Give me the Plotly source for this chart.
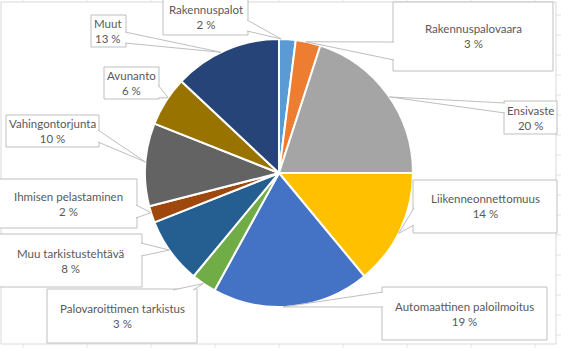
import math
import plotly.graph_objects as go

# Hälytystehtävät tehtävätyypeittäin (osuus, %)
categories = [
    "Rakennuspalot",
    "Rakennuspalovaara",
    "Ensivaste",
    "Liikenneonnettomuus",
    "Automaattinen paloilmoitus",
    "Palovaroittimen tarkistus",
    "Muu tarkistustehtävä",
    "Ihmisen pelastaminen",
    "Vahingontorjunta",
    "Avunanto",
    "Muut",
]
values = [2, 3, 20, 14, 19, 3, 8, 2, 10, 6, 13]
colors = [
    "#5B9BD5", "#ED7D31", "#A5A5A5", "#FFC000", "#4472C4", "#70AD47",
    "#255E91", "#9E480E", "#636363", "#997300", "#264478",
]

W, H = 561, 348
CX, CY, R = 279, 173, 134  # pie centre and radius in pixels

# Callout geometry in pixels: box (x0, y0, x1, y1), wedge base points, tip angle (deg clockwise from 12 o'clock)
callouts = {
    "Rakennuspalot": dict(box=(163, -2, 248, 35), base=[(247, 20), (247, 31)], tip=1.0),
    "Rakennuspalovaara": dict(box=(393, 2, 553, 71), base=[(394, 42), (394, 60)], tip=11.6),
    "Ensivaste": dict(box=(504, 101, 557, 134), base=[(505, 103), (505, 113)], tip=55.4),
    "Liikenneonnettomuus": dict(box=(413, 180, 557, 233), base=[(414, 208), (414, 225)], tip=116.8),
    "Automaattinen paloilmoitus": dict(box=(382, 287, 547, 340), base=[(383, 292), (383, 307)], tip=178.3),
    "Palovaroittimen tarkistus": dict(box=(47, 289, 197, 343), base=[(173, 290), (193, 290)], tip=214.4),
    "Muu tarkistustehtävä": dict(box=(-1, 234, 142, 287), base=[(141, 243), (141, 256)], tip=234.9),
    "Ihmisen pelastaminen": dict(box=(-1, 179, 137, 228), base=[(136, 205), (136, 218)], tip=252.8),
    "Vahingontorjunta": dict(box=(6, 115, 99, 147), base=[(98, 130), (98, 142)], tip=274.7),
    "Avunanto": dict(box=(104, 67, 159, 99), base=[(158, 85), (158, 98)], tip=304.2),
    "Muut": dict(box=(91, 15, 126, 47), base=[(125, 32), (125, 43)], tip=334.3),
}

GRID = "#E3E3E3"
FRAME = "#D9D9D9"
BOX = "#BFBFBF"
TEXT = "#595959"


def px(x):
    return x / W


def py(y):
    return 1 - y / H


fig = go.Figure(
    go.Pie(
        labels=categories,
        values=values,
        sort=False,
        direction="clockwise",
        rotation=0,
        marker=dict(colors=colors, line=dict(color="white", width=2)),
        textinfo="none",
        hoverinfo="label+percent",
        showlegend=False,
        domain=dict(x=[px(CX - R), px(CX + R)], y=[py(CY + R), py(CY - R)]),
    )
)

shapes = []

# worksheet gridlines peeking around the chart frame
for gx in range(23, W, 64):
    shapes.append(dict(type="line", xref="paper", yref="paper", x0=px(gx), x1=px(gx),
                       y0=py(0), y1=py(2), line=dict(color=GRID, width=1), layer="below"))
    shapes.append(dict(type="line", xref="paper", yref="paper", x0=px(gx), x1=px(gx),
                       y0=py(344), y1=py(348), line=dict(color=GRID, width=1), layer="below"))
for gy in range(15, H, 20):
    shapes.append(dict(type="line", xref="paper", yref="paper", x0=px(556), x1=px(561),
                       y0=py(gy), y1=py(gy), line=dict(color=GRID, width=1), layer="below"))

# chart frame
shapes.append(dict(type="rect", xref="paper", yref="paper", x0=px(1), x1=px(556),
                   y0=py(344), y1=py(2), line=dict(color=FRAME, width=1),
                   fillcolor="white", layer="below"))

annotations = []
for cat, val in zip(categories, values):
    c = callouts[cat]
    x0, y0, x1, y1 = c["box"]
    shapes.append(dict(type="rect", xref="paper", yref="paper", x0=px(x0), x1=px(x1),
                       y0=py(y1), y1=py(y0), line=dict(color=BOX, width=1),
                       fillcolor="white", layer="above"))
    ang = math.radians(c["tip"])
    tx = CX + R * math.sin(ang)
    ty = CY - R * math.cos(ang)
    (ax, ay), (bx, by) = c["base"]
    path = f"M {px(ax)} {py(ay)} L {px(tx)} {py(ty)} L {px(bx)} {py(by)}"
    shapes.append(dict(type="path", xref="paper", yref="paper", path=path,
                       line=dict(color=BOX, width=1), fillcolor="white", layer="above"))
    annotations.append(dict(
        xref="paper", yref="paper", x=px((x0 + x1) / 2), y=py((y0 + y1) / 2),
        text=f"{cat}<br>{val} %", showarrow=False, xanchor="center", yanchor="middle",
        align="center", font=dict(family="Lato", size=11.5, color=TEXT),
    ))

fig.update_layout(
    width=W,
    height=H,
    autosize=False,
    margin=dict(l=0, r=0, t=0, b=0),
    paper_bgcolor="white",
    plot_bgcolor="white",
    shapes=shapes,
    annotations=annotations,
)

fig.write_html("out.html")
